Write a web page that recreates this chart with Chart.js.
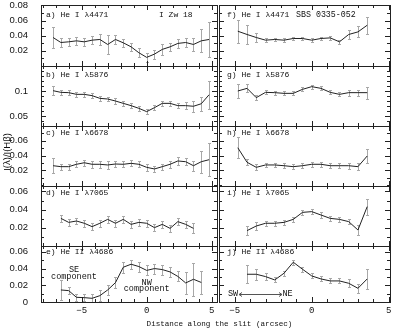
<!DOCTYPE html>
<html><head><meta charset="utf-8">
<script src="https://cdn.jsdelivr.net/npm/chart.js@4.4.1/dist/chart.umd.min.js"></script>
<style>
html,body{margin:0;padding:0;background:#fff;}
body{width:400px;height:331px;overflow:hidden;position:relative;}
canvas{position:absolute;}
</style></head><body>
<canvas id="titles" width="400" height="331" style="left:0;top:0;width:400px;height:331px;"></canvas>
<script>
// ---------- data ----------
const xAC = [-7.2,-6.6,-6.0,-5.4,-4.8,-4.2,-3.6,-3.0,-2.4,-1.8,-1.2,-0.6,0,0.6,1.2,1.8,2.4,3.0,3.6,4.2,4.8];
const xD  = [-6.6,-6.0,-5.4,-4.8,-4.2,-3.6,-3.0,-2.4,-1.8,-1.2,-0.6,0,0.6,1.2,1.8,2.4,3.0,3.6];
const xE  = [-6.6,-6.0,-5.4,-4.8,-4.2,-3.6,-3.0,-2.4,-1.8,-1.2,-0.6,0,0.6,1.2,1.8,2.4,3.0,3.6,4.2];
const xFH = [-4.8,-4.2,-3.6,-3.0,-2.4,-1.8,-1.2,-0.6,0,0.6,1.2,1.8,2.4,3.0,3.6];
const xIJ = [-4.2,-3.6,-3.0,-2.4,-1.8,-1.2,-0.6,0,0.6,1.2,1.8,2.4,3.0,3.6];

const aVal = [0.0376,0.031,0.0319,0.0332,0.0319,0.0341,0.035,0.0284,0.035,0.0306,0.0253,0.0175,0.0114,0.0157,0.0219,0.0253,0.0298,0.031,0.0284,0.0332,0.035];
const aErr = [0.0142,0.0064,0.0055,0.0055,0.0055,0.0055,0.0077,0.012,0.0055,0.0055,0.0052,0.0059,0.0055,0.0059,0.0077,0.0052,0.0055,0.0059,0.0087,0.015,0.023];
const bVal = [0.1006,0.0973,0.0967,0.0933,0.0933,0.0907,0.0853,0.084,0.08,0.0753,0.0707,0.0653,0.0587,0.0667,0.0753,0.0753,0.0707,0.0707,0.0695,0.0745,0.0925];
const bErr = [0.009,0.005,0.005,0.005,0.005,0.005,0.005,0.005,0.005,0.005,0.005,0.005,0.005,0.005,0.005,0.005,0.005,0.007,0.011,0.014,0.028];
const cVal = [0.0264,0.0251,0.0251,0.0283,0.0304,0.0283,0.0283,0.0274,0.0287,0.0283,0.0296,0.0283,0.0242,0.022,0.0251,0.0283,0.0328,0.0318,0.0264,0.0318,0.0345];
const cErr = [0.01,0.004,0.004,0.004,0.004,0.005,0.005,0.005,0.004,0.004,0.004,0.004,0.005,0.004,0.004,0.005,0.005,0.005,0.007,0.015,0.022];
const dVal = [0.0304,0.026,0.0275,0.025,0.0213,0.025,0.0293,0.025,0.0293,0.0238,0.026,0.025,0.0202,0.0238,0.0194,0.0268,0.0238,0.0194];
const dErr = [0.004,0.0037,0.0037,0.0037,0.0037,0.0037,0.0037,0.0037,0.0037,0.0037,0.0037,0.0037,0.0037,0.0037,0.0037,0.0037,0.0037,0.0055];
const eVal = [0.0144,0.0136,0.0056,0.0052,0.0044,0.0076,0.0144,0.0232,0.0416,0.0452,0.0424,0.0378,0.040,0.0388,0.036,0.0306,0.0228,0.0272,0.0234];
const eErr = [0.012,0.0046,0.004,0.004,0.005,0.007,0.0064,0.007,0.0064,0.0054,0.006,0.006,0.006,0.006,0.006,0.006,0.013,0.02,0.014];
const fVal = [0.0459,0.0416,0.0376,0.0341,0.035,0.0341,0.0363,0.0363,0.0341,0.0363,0.0371,0.0319,0.0416,0.045,0.0538];
const fErr = [0.0153,0.012,0.006,0.0025,0.0025,0.0025,0.0025,0.0025,0.0025,0.0025,0.0025,0.0025,0.0057,0.0072,0.0114];
const gVal = [0.1,0.1053,0.0867,0.0973,0.0967,0.0953,0.0953,0.1033,0.1087,0.1053,0.0973,0.0933,0.0967,0.0967,0.0967];
const gErr = [0.0143,0.008,0.005,0.004,0.004,0.004,0.004,0.004,0.004,0.004,0.004,0.004,0.006,0.006,0.0117];
const hVal = [0.0507,0.031,0.0242,0.0274,0.0274,0.0264,0.0251,0.0264,0.0283,0.0283,0.0264,0.0264,0.0264,0.0251,0.0395];
const hErr = [0.014,0.004,0.004,0.003,0.003,0.003,0.003,0.003,0.003,0.003,0.003,0.003,0.004,0.0045,0.009];
const iVal = [0.0169,0.022,0.025,0.025,0.026,0.0293,0.037,0.0378,0.0341,0.0304,0.0293,0.0268,0.0176,0.0433];
const iErr = [0.005,0.004,0.003,0.003,0.003,0.003,0.003,0.003,0.003,0.003,0.003,0.003,0.005,0.0088];
const jVal = [0.0332,0.0332,0.0304,0.0264,0.0344,0.0476,0.0392,0.0312,0.0276,0.0252,0.0252,0.0224,0.0164,0.0276];
const jErr = [0.011,0.0066,0.004,0.003,0.003,0.003,0.003,0.003,0.003,0.003,0.003,0.005,0.0056,0.012];

// tick labels
const xTickLabels = [-5,0,5];
const yTicksA = [0.02,0.04,0.06,0.08];
const yTicksB = [0.05,0.1];
const yTicksC = [0.02,0.04,0.06];
const yTicksD = [0.02,0.04,0.06];
const yTicksE = [0,0.02,0.04,0.06];
const xTitle = 'Distance along the slit (arcsec)';
const yTitle = 'I(λ)/I(Hβ)';

// ---------- layout (style only) ----------
const rowTop = [5,66,126,186,246];
const rowBot = [66,126,186,246,302];
const colL = [41,219], colR = [217,390];
const xRange = [[-8.13,5.41],[-6.02,5.08]];
const yRange = [[0,0.0805],[0.03,0.15],[-0.001,0.08],[0,0.066],[0,0.067]];
const yMajor = [yTicksA,yTicksB,yTicksC,yTicksD,yTicksE];
const yMinorStep = [0.01,0.01,0.01,0.01,0.01];
const LINE = '#222', ERR = '#a8a8a8', TXT = '#111';
const MONO = '"Liberation Mono", monospace';

// axis titles
(function(){
  const c = document.getElementById('titles').getContext('2d');
  c.fillStyle = TXT; c.textBaseline = 'middle'; c.textAlign = 'center';
  c.font = '7.6px '+MONO;
  c.fillText(xTitle, 219.5, 324);
  c.save(); c.translate(7.5, 152); c.rotate(-Math.PI/2);
  c.font = '9.5px "Liberation Sans", sans-serif';
  c.fillText(yTitle, 0, 0);
  c.restore();
})();

const panels = [
  {row:0,col:0,x:xAC,y:aVal,e:aErr,label:'a) He I λ4471',dy:10,extra:[{t:'I Zw 18',dx:118,dy:10,size:8}]},
  {row:1,col:0,x:xAC,y:bVal,e:bErr,label:'b) He I λ5876',dy:9},
  {row:2,col:0,x:xAC,y:cVal,e:cErr,label:'c) He I λ6678',dy:7},
  {row:3,col:0,x:xD,y:dVal,e:dErr,label:'d) He I λ7065',dy:7},
  {row:4,col:0,x:xE,y:eVal,e:eErr,label:'e) He II λ4686',dy:6,
    extra:[{t:'SE',dx:33,dy:24,size:8.5,c:true},{t:'component',dx:33,dy:31,size:8.5,c:true},
           {t:'NW',dx:105.7,dy:36.7,size:8.5,c:true},{t:'component',dx:105.7,dy:43,size:8.5,c:true}]},
  {row:0,col:1,x:xFH,y:fVal,e:fErr,label:'f) He I λ4471',dy:10,extra:[{t:'SBS 0335-052',dx:77,dy:10,size:8.3}]},
  {row:1,col:1,x:xFH,y:gVal,e:gErr,label:'g) He I λ5876',dy:9},
  {row:2,col:1,x:xFH,y:hVal,e:hErr,label:'h) He I λ6678',dy:7},
  {row:3,col:1,x:xIJ,y:iVal,e:iErr,label:'i) He I λ7065',dy:7},
  {row:4,col:1,x:xIJ,y:jVal,e:jErr,label:'j) He II λ4686',dy:6,arrow:true},
];

function fmtX(v){ return v<0 ? '\u2212'+Math.abs(v) : String(v); }

function makePanel(p){
  const pad = 8;
  const yAxisW = p.col===0 ? 41 : 0;
  const xAxisH = p.row===4 ? 16 : 0;
  const plotW = colR[p.col]-colL[p.col];
  const plotH = rowBot[p.row]-rowTop[p.row];
  const cv = document.createElement('canvas');
  const W = yAxisW + plotW + 2*pad, H = plotH + xAxisH + 2*pad;
  cv.width = W; cv.height = H;
  cv.style.width = W+'px'; cv.style.height = H+'px';
  cv.style.left = (colL[p.col]-yAxisW-pad)+'px';
  cv.style.top = (rowTop[p.row]-pad)+'px';
  document.body.appendChild(cv);

  const plugin = {
    id:'panel'+p.row+p.col,
    beforeDatasetsDraw(chart){
      const ctx = chart.ctx, xs = chart.scales.x, ys = chart.scales.y, ca = chart.chartArea;
      ctx.save();
      ctx.beginPath(); ctx.rect(ca.left,ca.top,ca.right-ca.left,ca.bottom-ca.top); ctx.clip();
      ctx.strokeStyle = ERR; ctx.lineWidth = 1;
      p.x.forEach((xv,i)=>{
        const px = Math.round(xs.getPixelForValue(xv))+0.5;
        const y1 = Math.round(ys.getPixelForValue(p.y[i]-p.e[i]))+0.5;
        const y2 = Math.round(ys.getPixelForValue(p.y[i]+p.e[i]))+0.5;
        ctx.beginPath();
        ctx.moveTo(px,y1); ctx.lineTo(px,y2);
        ctx.moveTo(px-1.5,y1); ctx.lineTo(px+1.5,y1);
        ctx.moveTo(px-1.5,y2); ctx.lineTo(px+1.5,y2);
        ctx.stroke();
      });
      ctx.restore();
    },
    afterDraw(chart){
      const ctx = chart.ctx, xs = chart.scales.x, ys = chart.scales.y, ca = chart.chartArea;
      ctx.save();
      ctx.strokeStyle = '#222'; ctx.lineWidth = 1;
      ctx.strokeRect(ca.left+0.5, ca.top+0.5, ca.right-ca.left, ca.bottom-ca.top);
      const [x0,x1] = xRange[p.col];
      ctx.beginPath();
      for(let v=Math.ceil(x0); v<=Math.floor(x1); v++){
        const major = (v%5===0);
        const len = major?5:3;
        const px = Math.round(xs.getPixelForValue(v))+0.5;
        ctx.moveTo(px,ca.top); ctx.lineTo(px,ca.top+len);
        ctx.moveTo(px,ca.bottom); ctx.lineTo(px,ca.bottom-len);
      }
      const [y0,y1] = yRange[p.row];
      const st = yMinorStep[p.row];
      for(let k=Math.ceil(y0/st-1e-6); k*st<=y1+1e-9; k++){
        const v = k*st;
        const major = yMajor[p.row].some(m=>Math.abs(m-v)<1e-6);
        const len = major?5:3;
        const py = Math.round(ys.getPixelForValue(v))+0.5;
        ctx.moveTo(ca.left,py); ctx.lineTo(ca.left+len,py);
        ctx.moveTo(ca.right,py); ctx.lineTo(ca.right-len,py);
      }
      ctx.stroke();
      ctx.fillStyle = TXT;
      ctx.textBaseline = 'middle';
      if(p.row===4){
        ctx.font = '9px '+MONO; ctx.textAlign='center';
        xTickLabels.forEach(v=>{
          ctx.fillText(fmtX(v), xs.getPixelForValue(v), ca.bottom+9);
        });
      }
      ctx.font = '8px '+MONO;
      ctx.textAlign = 'left';
      ctx.fillText(p.label, ca.left+(p.col===0?5:8), ca.top+p.dy);
      (p.extra||[]).forEach(t=>{
        ctx.font = t.size+'px '+MONO;
        ctx.textAlign = t.c ? 'center' : 'left';
        ctx.fillText(t.t, ca.left+t.dx, ca.top+t.dy);
      });
      if(p.arrow){
        ctx.font = '8.5px '+MONO; ctx.textAlign='left';
        const yy = ca.top+48;
        ctx.fillText('SW', ca.left+9, yy);
        ctx.fillText('NE', ca.left+63.5, yy);
        ctx.strokeStyle='#555';
        ctx.beginPath();
        const ax0 = ca.left+20, ax1 = ca.left+63, ay = Math.round(yy)+0.5;
        ctx.moveTo(ax0,ay); ctx.lineTo(ax1,ay);
        ctx.moveTo(ax0+3,ay-2); ctx.lineTo(ax0,ay); ctx.lineTo(ax0+3,ay+2);
        ctx.moveTo(ax1-3,ay-2); ctx.lineTo(ax1,ay); ctx.lineTo(ax1-3,ay+2);
        ctx.stroke();
      }
      ctx.restore();
    }
  };

  new Chart(cv, {
    type:'line',
    data:{datasets:[{
      data:p.x.map((xv,i)=>({x:xv,y:p.y[i]})),
      borderColor:LINE, borderWidth:1, pointRadius:0, tension:0, fill:false
    }]},
    options:{
      responsive:false, animation:false, devicePixelRatio:1, events:[],
      layout:{padding:{left:pad,right:pad,top:pad,bottom:pad+xAxisH}},
      plugins:{legend:{display:false},tooltip:{enabled:false},title:{display:false}},
      scales:{
        x:{type:'linear', min:xRange[p.col][0], max:xRange[p.col][1], display:false},
        y:{type:'linear', min:yRange[p.row][0], max:yRange[p.row][1],
           display: p.col===0,
           afterFit:s=>{s.width = yAxisW; s.paddingTop=0; s.paddingBottom=0;},
           afterBuildTicks:s=>{s.ticks = yMajor[p.row].map(v=>({value:v}));},
           grid:{display:false}, border:{display:false},
           ticks:{font:{family:'"Liberation Sans", sans-serif',size:9.5},color:TXT,padding:5,autoSkip:false,callback:v=>String(v)}}
      }
    },
    plugins:[plugin]
  });
}
panels.forEach(makePanel);
</script>
</body></html>
